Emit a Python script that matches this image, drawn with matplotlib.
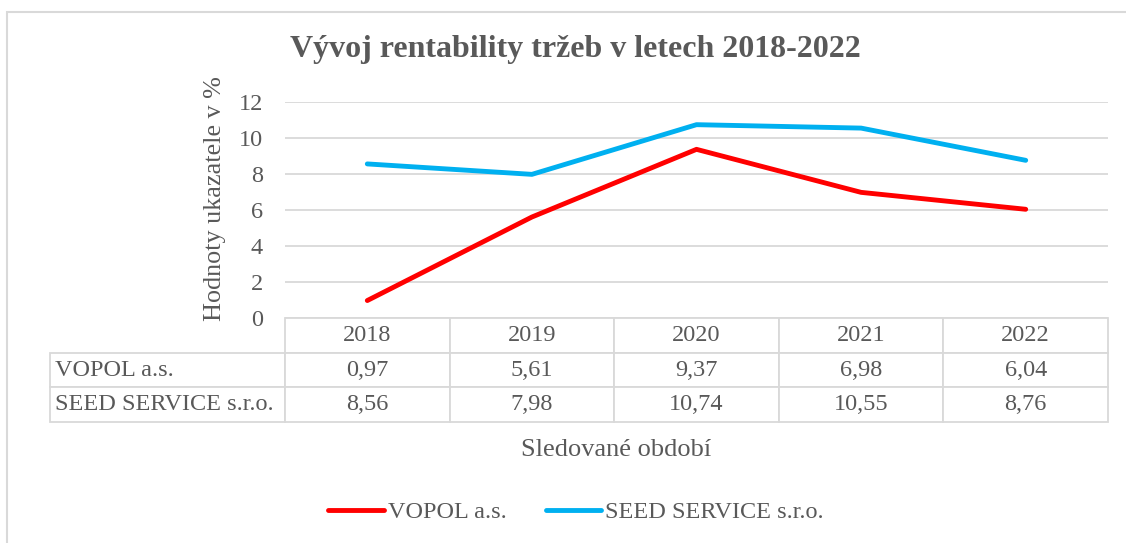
import matplotlib
matplotlib.use("agg")
import matplotlib.pyplot as plt
from matplotlib.patches import Rectangle

# Data
years = ["2018", "2019", "2020", "2021", "2022"]
vopol = [0.97, 5.61, 9.37, 6.98, 6.04]
seed = [8.56, 7.98, 10.74, 10.55, 8.76]
series_names = ["VOPOL a.s.", "SEED SERVICE s.r.o."]
y_ticks = [0, 2, 4, 6, 8, 10, 12]

TEXT = "#595959"
GRID = "#d9d9d9"
RED = "#ff0000"
BLUE = "#00b0f0"
FS = 17.5

plt.rcParams["font.family"] = ["Liberation Serif", "DejaVu Serif"]

W, H = 1126, 543
fig = plt.figure(figsize=(W / 100, H / 100), dpi=100)

# outer chart border
fig.patches.append(Rectangle((7 / W, -0.1), 1.2, 1.1 - 12 / H, transform=fig.transFigure,
                             fill=False, edgecolor=GRID, linewidth=1.5))

# plot area in pixel coordinates
left, right, top, bottom = 285, 1108, 102, 318
ax = fig.add_axes([left / W, 1 - bottom / H, (right - left) / W, (bottom - top) / H])

x = list(range(len(years)))
ax.plot(x, vopol, color=RED, lw=3.5, solid_capstyle="round", label=series_names[0])
ax.plot(x, seed, color=BLUE, lw=3.5, solid_capstyle="round", label=series_names[1])

ax.set_xlim(-0.5, len(years) - 0.5)
ax.set_ylim(0, 12)
ax.set_yticks(y_ticks)
ax.set_xticks([])
ax.grid(axis="y", color=GRID, lw=1.3)
ax.set_axisbelow(True)
for s in ax.spines.values():
    s.set_visible(False)
ax.tick_params(axis="y", length=0, pad=16, labelsize=FS, labelcolor=TEXT)

# data table under the plot (first column holds the series names)
fmt = lambda v: f"{v:.2f}".replace(".", ",")
cell_text = [[series_names[0]] + [fmt(v) for v in vopol],
             [series_names[1]] + [fmt(v) for v in seed]]
tx0, tx1, ty1 = 50, 1108, 422
col_w = (right - left) / 5
tbl = ax.table(cellText=cell_text, colLabels=[""] + years,
               colWidths=[left - tx0] + [col_w] * 5, cellLoc="center",
               bbox=[(tx0 - left) / (right - left), (bottom - ty1) / (bottom - top),
                     (tx1 - tx0) / (right - left), (ty1 - bottom) / (bottom - top)])
tbl.auto_set_font_size(False)
tbl.set_fontsize(FS)
for (r, c), cell in tbl.get_celld().items():
    cell.set_edgecolor(GRID)
    cell.set_linewidth(1.3)
    cell.get_text().set_color(TEXT)
    if c == 0:
        cell.PAD = 0.02
        cell.get_text().set_ha("left")
        cell._loc = "left"
    if r == 0 and c == 0:
        cell.visible_edges = ""

fig.text(575 / W, 1 - 50 / H, "Vývoj rentability tržeb v letech 2018-2022",
         ha="center", va="center", fontsize=23, fontweight="bold", color=TEXT)
fig.text(215 / W, 1 - 199 / H, "Hodnoty ukazatele v %", rotation=90,
         ha="center", va="center", fontsize=18.8, color=TEXT)
fig.text(616 / W, 1 - 450 / H, "Sledované období",
         ha="center", va="center", fontsize=19, color=TEXT)

leg = ax.legend(loc="center", bbox_to_anchor=(576 / W, 1 - 512 / H),
                bbox_transform=fig.transFigure, ncol=2, frameon=False,
                fontsize=FS, handlelength=2.3, handletextpad=0.15, columnspacing=1.6)
for t in leg.get_texts():
    t.set_color(TEXT)

fig.savefig("out.png", dpi=100)
